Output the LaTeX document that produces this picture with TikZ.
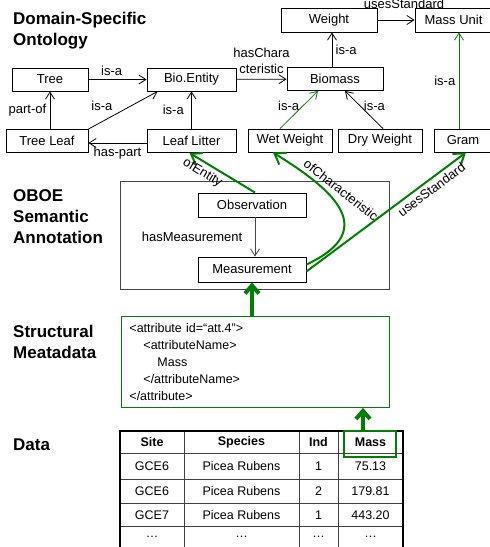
\documentclass[tikz,border=0pt]{standalone}
\usepackage{fontspec}
\setmainfont{Liberation Sans}
\usetikzlibrary{arrows.meta}
\definecolor{annogreen}{RGB}{0,128,0}
\definecolor{boxgray}{RGB}{70,70,70}
\begin{document}
\begin{tikzpicture}[x=1pt,y=-1pt,
  lbl/.style={font=\fontsize{13}{16}\selectfont},
  concept/.style={draw=black,line width=0.9pt,minimum height=23pt,inner sep=0pt,font=\fontsize{13}{15}\selectfont},
  rel/.style={draw=black,line width=0.8pt,-{Straight Barb[length=7pt,width=9pt]}},
  grel/.style={rel,draw=annogreen},
  anno/.style={draw=annogreen,line width=2pt,-{Straight Barb[length=10pt,width=14pt]}},
  flow/.style={draw=annogreen,line width=4pt,-{Straight Barb[length=8pt,width=14pt]}},
  heading/.style={font=\fontsize{17}{21}\selectfont\bfseries,align=left,anchor=north west,inner sep=0pt},
  cell/.style={font=\fontsize{12.5}{15}\selectfont},
  hcell/.style={font=\fontsize{12.5}{15}\selectfont\bfseries},
  tline/.style={draw=black!75,line width=0.8pt}]
\useasboundingbox (0,0) rectangle (490,547);
\clip (0,0) rectangle (490,547);
% the layer titles
\node[heading] (ontotitle) at (13,11.5) {Domain-Specific\\Ontology};
\node[heading] (oboetitle) at (13,189) {OBOE\\Semantic\\Annotation};
\node[heading] (structtitle) at (13,325) {Structural\\Meatadata};
\node[heading] (datatitle) at (13,439) {Data};
% the ontology concepts
\node[concept,minimum width=76pt] (tree) at (50,79.5) {Tree};
\node[concept,minimum width=89pt] (bioent) at (191.5,79.5) {Bio.Entity};
\node[concept,minimum width=82pt] (treeleaf) at (47,141) {Tree Leaf};
\node[concept,minimum width=89pt] (litter) at (191.5,141) {Leaf Litter};
\node[concept,minimum width=96pt,minimum height=24pt] (weight) at (329,20) {Weight};
\node[concept,minimum width=77pt,minimum height=24pt] (massunit) at (453.5,20) {Mass Unit};
\node[concept,minimum width=96pt] (biomass) at (335,79) {Biomass};
\node[concept,minimum width=84pt] (wetw) at (290,140.5) {Wet Weight};
\node[concept,minimum width=84pt] (dryw) at (380,140.5) {Dry Weight};
\node[concept,minimum width=58pt] (gram) at (463,140.5) {Gram};
% the ontology relations
\draw[rel] (tree) -- node[lbl,above,pos=0.4] {is-a} (bioent);
\draw[rel] (treeleaf.north -| tree) -- node[lbl,left] {part-of} (tree);
\draw[rel] (treeleaf.north east) -- node[lbl,above left,pos=0.4] {is-a} ([xshift=11pt]bioent.south west);
\draw[rel] ([yshift=-2pt]litter.west) -- node[lbl,below] {has-part} ([yshift=-2pt]litter.west -| treeleaf.east);
\draw[rel] (litter) -- node[lbl,left,xshift=-4pt] {is-a} (bioent);
\draw[rel] (bioent) -- node[lbl,above,align=center,inner sep=5pt] {hasChara\\cteristic} (biomass);
\draw[rel] ([xshift=-3pt]biomass.north) -- node[lbl,right] {is-a} ([xshift=-3pt]biomass.north |- weight.south);
\draw[rel] (weight) -- node[lbl,above,xshift=8pt,yshift=8pt] {usesStandard} (massunit);
\draw[grel] ([xshift=-10pt]wetw.north) -- node[lbl,left,pos=0.6] {is-a} ([xshift=-17pt]biomass.south);
\draw[rel] ([xshift=3pt]dryw.north) -- node[lbl,right,pos=0.6] {is-a} ([xshift=10pt]biomass.south);
\draw[grel] ([xshift=-4pt]gram.north) -- node[lbl,left] {is-a} ([xshift=-4pt]gram.north |- massunit.south);
% the OBOE annotation
\node[draw=boxgray,line width=0.9pt,minimum width=269pt,minimum height=108pt] (oboe) at (254.5,235) {};
\node[concept,minimum width=108pt,minimum height=24pt] (obs) at (252,205) {Observation};
\node[concept,minimum width=108pt,minimum height=25pt] (meas) at (252,269.5) {Measurement};
\draw[rel,draw=boxgray] ([xshift=3pt]obs.south) -- node[lbl,left,xshift=-9pt] {hasMeasurement} ([xshift=3pt]meas.north);
\draw[anno] ([xshift=3pt]obs.north) -- node[lbl,sloped,below,pos=0.72] {ofEntity} ([xshift=-2pt]litter.south);
\draw[anno] ([yshift=5pt]meas.east) .. controls (385,228) and (325,185) .. ([xshift=-17pt]wetw.south);
\node[lbl,rotate=-38] (ofchar) at (341,190) {ofCharacteristic};
\draw[anno] ([yshift=-2pt]meas.east) -- node[lbl,sloped,below,pos=0.75] {usesStandard} ([xshift=3pt]gram.south);
% the structural metadata
\node[draw=annogreen,line width=0.9pt,anchor=north west,text width=252pt,inner xsep=8pt,minimum height=91pt,align=left,font=\fontsize{12.5}{17}\selectfont] (xml) at (121,316)
  {<attribute id=“att.4”>\\
   \hspace*{14pt}<attributeName>\\
   \hspace*{28pt}Mass\\
   \hspace*{14pt}</attributeName>\\
   </attribute>};
\draw[flow] (xml.north -| meas) -- (meas.south);
% the data table
\foreach \y in {453,479,503,526}
  \draw[tline] (120,\y) -- (403,\y);
\foreach \x in {184,299,338}
  \draw[tline] (\x,431) -- (\x,560);
\draw[line width=2pt] (120,560) -- (120,431) -- (403,431) -- (403,560);
\foreach \x/\t [count=\i] in {152/Site,241.5/Species,318.5/Ind,370.5/Mass}
  \node[hcell] (h\i) at (\x,442) {\t};
\foreach \y/\s/\n/\m [count=\r] in {466/GCE6/1/75.13,491/GCE6/2/179.81,515/GCE7/1/443.20,537/\dots/\dots/\dots}
{
  \node[cell] (site\r) at (152,\y) {\s};
  \node[cell] (spec\r) at (241.5,\y) {\ifnum\r=4 \dots\else Picea Rubens\fi};
  \node[cell] (ind\r) at (318.5,\y) {\n};
  \node[cell] (mass\r) at (370.5,\y) {\m};
}
\node[draw=annogreen,line width=1.5pt,minimum width=52pt,minimum height=26pt] (massh) at (370,444) {};
\draw[flow] ([xshift=-7pt]massh.north) -- ([xshift=-7pt]massh.north |- xml.south);
\end{tikzpicture}
\end{document}
